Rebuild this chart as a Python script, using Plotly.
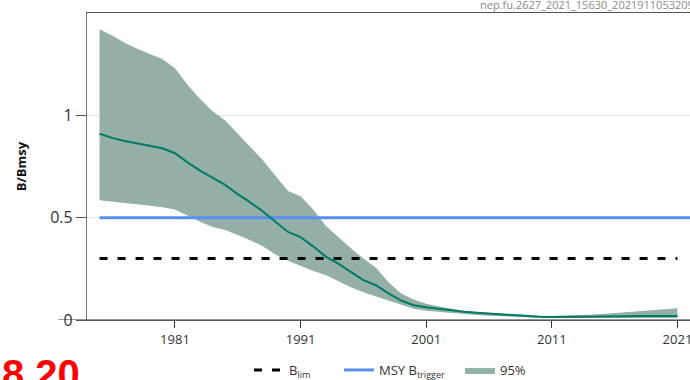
import plotly.graph_objects as go

years = list(range(1975, 2022))

median = [0.91, 0.89, 0.875, 0.862, 0.85, 0.839, 0.815, 0.77, 0.73, 0.693,
          0.66, 0.615, 0.575, 0.53, 0.48, 0.43, 0.405, 0.36, 0.31, 0.275,
          0.235, 0.195, 0.17, 0.13, 0.095, 0.072, 0.062, 0.054, 0.046, 0.04,
          0.035, 0.031, 0.027, 0.023, 0.019, 0.016, 0.015, 0.015, 0.015, 0.016,
          0.017, 0.018, 0.018, 0.019, 0.019, 0.02, 0.02]

upper = [1.42, 1.39, 1.355, 1.325, 1.30, 1.275, 1.23, 1.15, 1.08, 1.02,
         0.975, 0.91, 0.85, 0.78, 0.705, 0.63, 0.605, 0.54, 0.46, 0.405,
         0.35, 0.30, 0.255, 0.185, 0.13, 0.10, 0.08, 0.066, 0.055, 0.045,
         0.039, 0.035, 0.031, 0.027, 0.024, 0.021, 0.02, 0.021, 0.023, 0.026,
         0.029, 0.033, 0.037, 0.041, 0.046, 0.052, 0.058]

lower = [0.585, 0.58, 0.572, 0.565, 0.558, 0.551, 0.54, 0.51, 0.48, 0.455,
         0.44, 0.415, 0.39, 0.36, 0.32, 0.29, 0.265, 0.24, 0.22, 0.19,
         0.16, 0.135, 0.115, 0.095, 0.075, 0.055, 0.045, 0.039, 0.033, 0.028,
         0.024, 0.021, 0.018, 0.015, 0.013, 0.011, 0.01, 0.01, 0.01, 0.01,
         0.01, 0.01, 0.01, 0.01, 0.01, 0.01, 0.01]

blim = 0.3
btrigger = 0.5
blim_years = [1975, 2021]
btrigger_years = [1975, 2022.5]

x_ticks = [1981, 1991, 2001, 2011, 2021]
y_ticks = [0, 0.5, 1]
y_tick_labels = ["0", "0.5", "1"]

FILL = "#94afa5"
MED = "#007a68"
BLUE = "#5a8ff2"
FONT = "Open Sans"

# figure is wider than the window; the window crops the right part
W, H = 720, 380
L, T, B = 87, 13, 60
R = W - 690
PW = 690 - L
PH = H - T - B

fig = go.Figure()

fig.add_trace(go.Scatter(x=years, y=lower, mode="lines", line=dict(width=0, color=FILL),
                         showlegend=False, hoverinfo="skip"))
fig.add_trace(go.Scatter(x=years, y=upper, mode="lines", line=dict(width=0, color=FILL),
                         fill="tonexty", fillcolor=FILL, name="95%", showlegend=True,
                         legendrank=3))
fig.add_trace(go.Scatter(x=blim_years, y=[blim, blim], mode="lines",
                         line=dict(color="black", width=3, dash="8px,10px"),
                         name="B<sub>lim</sub>", legendrank=1, legendwidth=45))
fig.add_trace(go.Scatter(x=btrigger_years, y=[btrigger, btrigger], mode="lines",
                         line=dict(color=BLUE, width=3),
                         name="MSY B<sub>trigger</sub>", legendrank=2, legendwidth=76))
fig.add_trace(go.Scatter(x=years, y=median, mode="lines", line=dict(color=MED, width=2),
                         showlegend=False))

fig.update_layout(
    width=W, height=H,
    margin=dict(l=L, r=R, t=T, b=B, autoexpand=False),
    paper_bgcolor="white", plot_bgcolor="white",
    font=dict(family=FONT, size=13, color="#333"),
    legend=dict(orientation="h", x=(249 - L) / PW, xanchor="left", y=-(355 - 320) / PH,
                yanchor="top", font=dict(size=13, color="#333"), traceorder="normal",
                itemwidth=30, tracegroupgap=0),
    xaxis=dict(range=[1974, 2022], tickvals=x_ticks, ticks="outside", ticklen=7,
               tickcolor="#333", showline=True, linecolor="#555", linewidth=1.2,
               mirror=True, showgrid=False, zeroline=False, automargin=False,
               tickfont=dict(size=13, color="#333")),
    yaxis=dict(range=[0, 1.5], tickvals=y_ticks, ticktext=y_tick_labels,
               ticks="outside", ticklen=10, tickcolor="#555",
               showline=True, linecolor="#777", linewidth=1.2, automargin=False,
               showgrid=True, gridcolor="#e6e6e6", gridwidth=1, zeroline=False,
               tickfont=dict(size=16, color="#333"),
               title=dict(text="<b>B/Bmsy</b>", font=dict(size=13, color="#111"), standoff=20)),
)

fig.add_shape(type="line", xref="paper", yref="y", x0=-(L - 58) / PW, x1=1, y0=0, y1=0,
              line=dict(color="#333", width=1.2))

fig.add_annotation(text="nep.fu.2627_2021_15630_20219110532099", xref="paper", yref="paper",
                   x=(478 - L) / PW, y=1 + 8 / PH, xanchor="left", yanchor="middle",
                   showarrow=False, font=dict(size=11, color="#8a8a8a", family=FONT))

fig.add_annotation(text="<b>8.20</b>", xref="paper", yref="paper",
                   x=-L / PW, y=-(350 - 320) / PH, xanchor="left", yanchor="top",
                   showarrow=False, font=dict(size=40, color="red", family="Liberation Sans"))

fig.write_html("out.html", config={"displayModeBar": False},
               post_script="document.body.style.margin='0';document.body.style.overflow='hidden';")
